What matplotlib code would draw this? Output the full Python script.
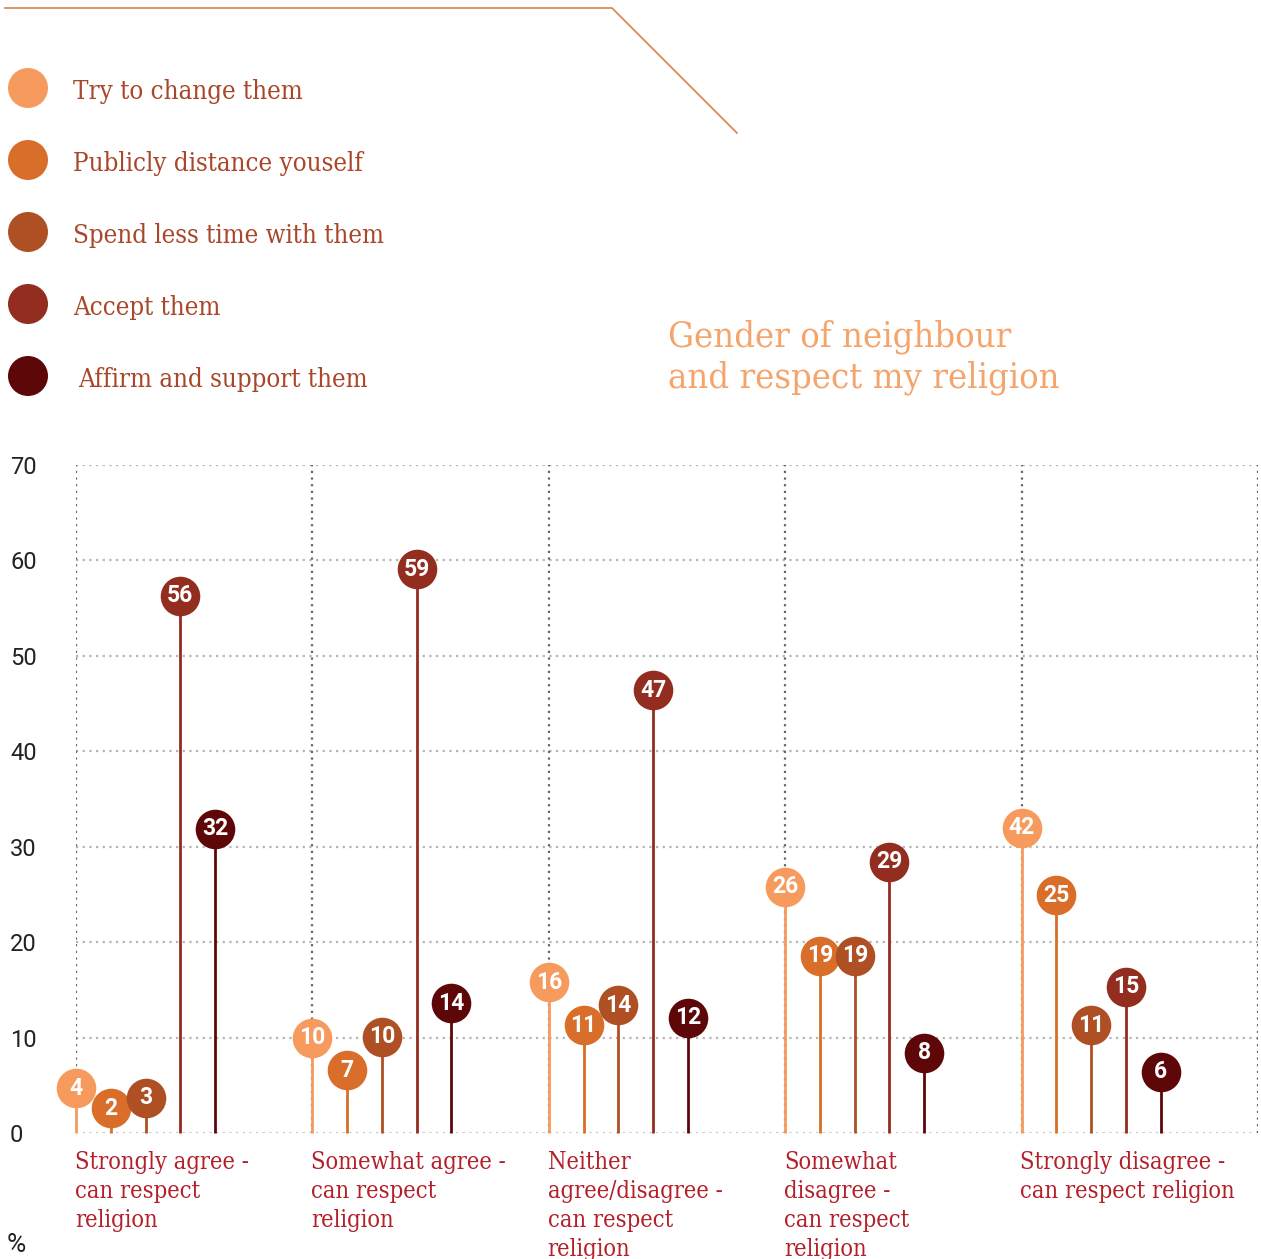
import numpy as np
import matplotlib.pyplot as plt
from matplotlib.patches import Circle

# answer options (legend)
series = ["Try to change them", "Publicly distance youself", "Spend less time with them",
          "Accept them", "Affirm and support them"]
colors = ["#F79A5E", "#D86E29", "#AE4F24", "#922D20", "#5E0709"]

categories = ["Strongly agree -\ncan respect\nreligion",
              "Somewhat agree -\ncan respect\nreligion",
              "Neither\nagree/disagree -\ncan respect\nreligion",
              "Somewhat\ndisagree -\ncan respect\nreligion",
              "Strongly disagree -\ncan respect religion"]

# printed values, one list per category
strongly_agree = [4, 2, 3, 56, 32]
somewhat_agree = [10, 7, 10, 59, 14]
neither = [16, 11, 14, 47, 12]
somewhat_disagree = [26, 19, 19, 29, 8]
strongly_disagree = [42, 25, 11, 15, 6]

# heights at which the dots sit in the original (42 is drawn at ~32 there)
h_strongly_agree = [4.7, 2.6, 3.7, 56.3, 31.9]
h_somewhat_agree = [10.0, 6.6, 10.1, 59.1, 13.6]
h_neither = [15.8, 11.3, 13.4, 46.4, 12.1]
h_somewhat_disagree = [25.8, 18.6, 18.6, 28.4, 8.4]
h_strongly_disagree = [32.0, 24.9, 11.3, 15.3, 6.4]

labels = [strongly_agree, somewhat_agree, neither, somewhat_disagree, strongly_disagree]
heights = [h_strongly_agree, h_somewhat_agree, h_neither, h_somewhat_disagree, h_strongly_disagree]

W, H = 1261, 1259
fig = plt.figure(figsize=(W / 100, H / 100), dpi=100)

SERIF = ["DejaVu Serif"]
SANS = ["Roboto", "DejaVu Sans"]

# background layer in pixel coordinates for legend / decoration
bg = fig.add_axes([0, 0, 1, 1], zorder=0)
bg.set_xlim(0, W)
bg.set_ylim(H, 0)
bg.axis("off")
bg.plot([5, 612, 737], [8, 8, 133], color="#D9834A", lw=1.2)
for i, (name, c) in enumerate(zip(series, colors)):
    y = 88 + i * 72
    bg.add_patch(Circle((28, y), 20, color=c, lw=0))
    bg.text(73 if i < 4 else 78, y + 3, name, color="#A8472A", fontsize=18.5,
            family=SERIF, fontstretch="condensed", va="center", ha="left")
bg.text(668, 357, "Gender of neighbour\nand respect my religion", color="#F5A46C",
        fontsize=26, family=SERIF, fontstretch="condensed", va="center", ha="left",
        linespacing=1.25)
bg.text(7, 1245, "%", fontsize=19, family=SANS, color="#222222", va="center")

ax = fig.add_axes([76 / W, 1 - 1133 / H, (1258 - 76) / W, (1133 - 465) / H], zorder=1)
ax.patch.set_alpha(0)
ax.set_xlim(0, 5)
ax.set_ylim(0, 70)
for s in ax.spines.values():
    s.set_visible(False)

for yv in range(10, 71, 10):
    ax.axhline(yv, color="#B5B5B5", lw=1.6, ls=(0, (1, 2)), zorder=1)
ax.axhline(0, color="#C8C8C8", lw=1.6, ls=(0, (1, 2)), zorder=1)
for xv in range(0, 6):
    ax.axvline(xv, color="#666666", lw=1.6, ls=(0, (1, 2)), zorder=1)

step = 0.147
for g in range(5):
    for j in range(5):
        x = g + j * step
        h = heights[g][j]
        ax.plot([x, x], [0, h], color=colors[j], lw=2, zorder=2, solid_capstyle="butt",
                clip_on=False)
        ax.plot(x, h, "o", ms=28.5, color=colors[j], mec="none", zorder=3, clip_on=False)
        ax.text(x, h, str(labels[g][j]), color="white", fontsize=16.5, fontweight="bold",
                family=SANS, ha="center", va="center", zorder=4)
    ax.text(g - 0.005, -1.9, categories[g], color="#B3202A", fontsize=17, family=SERIF,
            fontstretch="condensed", ha="left", va="top", linespacing=1.33)

ax.set_yticks(range(0, 71, 10))
ax.set_yticklabels([str(v) for v in range(0, 71, 10)], family=SANS, fontsize=17,
                   color="#222222")
ax.tick_params(axis="y", length=0, pad=47.5)
for t in ax.get_yticklabels():
    t.set_ha("left")
ax.set_xticks([])

fig.savefig("out.png", dpi=100)
